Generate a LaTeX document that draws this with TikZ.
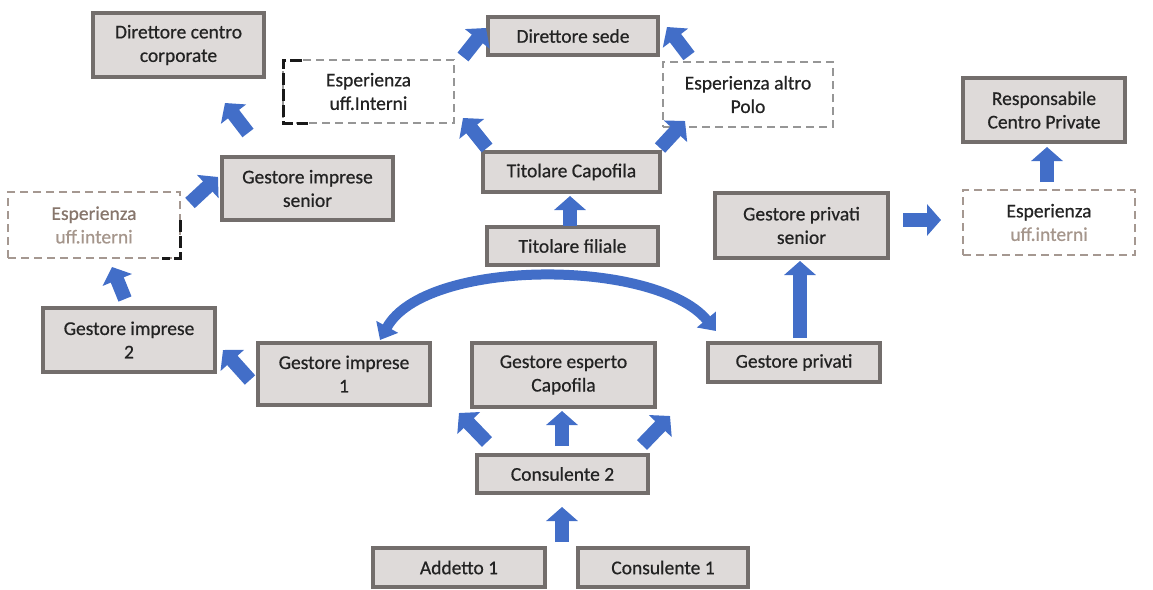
\documentclass[tikz,border=0pt]{standalone}
\usepackage{fontspec}
\setmainfont{Carlito}[FakeBold=0.6]
\usetikzlibrary{arrows.meta}
\definecolor{boxfill}{RGB}{222,218,217}
\definecolor{boxdraw}{RGB}{115,110,108}
\definecolor{txt}{RGB}{35,35,35}
\definecolor{arrblue}{RGB}{66,110,200}
\definecolor{dashgray}{RGB}{150,150,150}
\definecolor{dashbrown}{RGB}{165,152,145}
\definecolor{brtxt}{RGB}{135,118,108}
\definecolor{brtxtl}{RGB}{165,150,140}
\tikzset{
  rolebox/.style={draw=boxdraw, fill=boxfill, line width=3.2pt, inner sep=0pt,
    align=center, text=txt, font=\fontsize{19.5}{23.5}\selectfont},
  expbox/.style={draw=dashgray, line width=2.8pt, dash pattern=on 8pt off 5pt,
    inner sep=0pt, align=center, text=txt, font=\fontsize{19.5}{23.5}\selectfont},
  blackdash/.style={draw=black!90, line width=3pt, dash pattern=on 12pt off 4pt},
  barrow/.style={draw=arrblue, line width=14pt, -{Triangle[width=31pt,length=14pt]}},
  carrow/.style={draw=arrblue, line width=10pt, {Triangle[width=24pt,length=15pt]}-{Triangle[width=24pt,length=15pt]}},
}
\begin{document}
\begin{tikzpicture}[x=1pt,y=-1pt]
\useasboundingbox (0,0) rectangle (1153,589);
% role boxes
\node[rolebox, minimum width=171pt, minimum height=64pt] (dcc) at (178.5,45) {Direttore centro\\corporate};
\node[rolebox, minimum width=170pt, minimum height=38pt] (ds) at (573,36) {Direttore sede};
\node[rolebox, minimum width=177pt, minimum height=40pt] (tc) at (571.5,172) {Titolare Capofila};
\node[rolebox, minimum width=171pt, minimum height=38pt] (tf) at (572.5,246) {Titolare filiale};
\node[rolebox, minimum width=173pt, minimum height=65pt] (gps) at (801.5,225.5) {Gestore privati\\senior};
\node[rolebox, minimum width=162pt, minimum height=64pt] (rcp) at (1044,110) {Responsabile\\Centro Private};
\node[rolebox, minimum width=171pt, minimum height=63pt] (gis) at (307.5,188.5) {Gestore imprese\\senior};
\node[rolebox, minimum width=172pt, minimum height=64pt] (gi2) at (129,340) {Gestore imprese\\2};
\node[rolebox, minimum width=172pt, minimum height=62pt] (gi1) at (344,374) {Gestore imprese\\1};
\node[rolebox, minimum width=183pt, minimum height=64pt] (gec) at (563.5,375) {Gestore esperto\\Capofila};
\node[rolebox, minimum width=172pt, minimum height=39pt] (gp) at (794,362.5) {Gestore privati};
\node[rolebox, minimum width=171pt, minimum height=38pt] (c2) at (562.5,474) {Consulente 2};
\node[rolebox, minimum width=172pt, minimum height=39pt] (a1) at (459,567.5) {Addetto 1};
\node[rolebox, minimum width=170pt, minimum height=39pt] (c1) at (663,567.5) {Consulente 1};
% experience boxes
\node[expbox, minimum width=171pt, minimum height=63pt] (e1) at (368.5,91.5) {Esperienza\\uff.Interni};
\draw[blackdash] (302,60) -- (283,60) -- (283,123) -- (308,123);
\node[expbox, minimum width=170pt, minimum height=65pt] (eap) at (748,94.5) {Esperienza altro\\Polo};
\node[expbox, draw=dashbrown, minimum width=172pt, minimum height=66pt] (e2) at (94,225)
  {\textcolor{brtxt}{Esperienza}\\\textcolor{brtxtl}{uff.interni}};
\draw[blackdash] (180,220) -- (180,258) -- (162,258);
\node[expbox, draw=dashbrown, minimum width=172pt, minimum height=65pt] (e3) at (1049,222.5)
  {Esperienza\\\textcolor{brtxtl}{uff.interni}};
% arrow end points
\coordinate (t1) at (562,542); \coordinate (h1) at (562,507);
\coordinate (t2) at (487,442); \coordinate (h2) at (459,413);
\coordinate (t3) at (562,446); \coordinate (h3) at (562,411);
\coordinate (t4) at (642,445); \coordinate (h4) at (670,416);
\coordinate (t5) at (250,380); \coordinate (h5) at (223,350);
\coordinate (t6) at (125,299); \coordinate (h6) at (112,267);
\coordinate (t7) at (190,203); \coordinate (h7) at (218,177);
\coordinate (t8) at (248,133); \coordinate (h8) at (225,103);
\coordinate (t9) at (570,226); \coordinate (h9) at (570,196);
\coordinate (t10) at (487,148); \coordinate (h10) at (463,118);
\coordinate (t11) at (660,148); \coordinate (h11) at (685,121);
\coordinate (t12) at (463,57); \coordinate (h12) at (486,28);
\coordinate (t13) at (689,56); \coordinate (h13) at (667,27);
\coordinate (t14) at (800,338); \coordinate (h14) at (800,261);
\coordinate (t15) at (903,220); \coordinate (h15) at (941,220);
\coordinate (t16) at (1047,182); \coordinate (h16) at (1047,147);
\coordinate (cl) at (380,340); \coordinate (cr) at (716,331);
% arrows
\draw[barrow] (t1) -- (h1);
\draw[barrow] (t2) -- (h2);
\draw[barrow] (t3) -- (h3);
\draw[barrow] (t4) -- (h4);
\draw[barrow] (t5) -- (h5);
\draw[barrow] (t6) -- (h6);
\draw[barrow] (t7) -- (h7);
\draw[barrow] (t8) -- (h8);
\draw[barrow] (t9) -- (h9);
\draw[barrow] (t10) -- (h10);
\draw[barrow] (t11) -- (h11);
\draw[barrow] (t12) -- (h12);
\draw[barrow] (t13) -- (h13);
\draw[barrow] (t14) -- (h14);
\draw[barrow] (t15) -- (h15);
\draw[barrow] (t16) -- (h16);
\draw[carrow] (cl) .. controls (425,258) and (655,258) .. (cr);
\end{tikzpicture}
\end{document}
